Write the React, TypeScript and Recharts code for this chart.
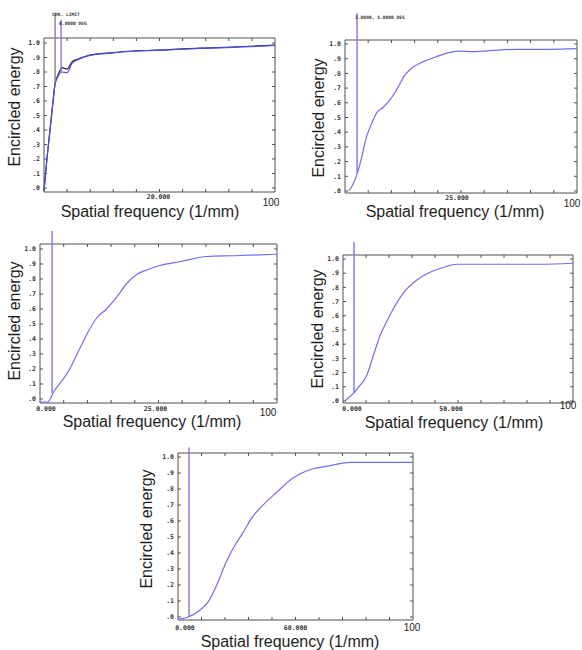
import React from "react";
import {
  LineChart,
  Line,
  XAxis,
  YAxis,
  ReferenceArea,
  ReferenceLine,
} from "recharts";

// shared axis ticks
const freqTicks = [0, 10, 20, 30, 40, 50, 60, 70, 80, 90, 100];
const eeTicks = [0, 0.1, 0.2, 0.3, 0.4, 0.5, 0.6, 0.7, 0.8, 0.9, 1.0];
const eeTickText = [".0", ".1", ".2", ".3", ".4", ".5", ".6", ".7", ".8", ".9", "1.0"];

// panel 1 (two field curves)
const p1Freq = [0, 1.2, 2.6, 4.0, 4.8, 6.1, 7.8, 10.0, 12.1, 14.7, 19.9, 28.6, 38.5, 53.0, 67.5, 81.8, 100];
const p1Black = [-0.02, 0.19, 0.4, 0.61, 0.72, 0.78, 0.83, 0.82, 0.87, 0.89, 0.917, 0.932, 0.945, 0.953, 0.965, 0.972, 0.986];
const p1Blue = [-0.02, 0.19, 0.4, 0.61, 0.72, 0.77, 0.8, 0.795, 0.86, 0.885, 0.915, 0.93, 0.943, 0.952, 0.963, 0.97, 0.984];

// panel 2
const p2Freq = [1.7, 4.3, 5.7, 7.2, 9.3, 11.5, 13.6, 16.5, 19.4, 22.3, 25.9, 28.7, 33.8, 39.5, 45.3, 49.6, 54.6, 62.5, 74, 88.4, 100];
const p2Ee = [0, 0.075, 0.14, 0.23, 0.37, 0.46, 0.53, 0.57, 0.62, 0.69, 0.79, 0.835, 0.88, 0.915, 0.943, 0.952, 0.948, 0.955, 0.964, 0.964, 0.968];

// panel 3
const p3Freq = [0, 3.4, 5.5, 11.8, 16.9, 20.4, 23.9, 28.1, 32.4, 36.6, 40.8, 45, 50.6, 59, 70.3, 81.6, 100];
const p3Ee = [-0.02, -0.02, 0.04, 0.18, 0.34, 0.45, 0.54, 0.6, 0.68, 0.77, 0.83, 0.86, 0.89, 0.915, 0.95, 0.955, 0.965];

// panel 4
const p4Freq = [0.8, 4.5, 7.4, 10.3, 13.2, 16.1, 19, 21.9, 26.2, 32, 37.8, 43.6, 49.4, 63.9, 85.7, 100];
const p4Ee = [0, 0.054, 0.11, 0.18, 0.32, 0.46, 0.56, 0.65, 0.76, 0.85, 0.906, 0.94, 0.963, 0.963, 0.963, 0.97];

// panel 5
const p5Freq = [0, 4.4, 9.4, 12.9, 16.5, 20.7, 24.3, 27.8, 31.4, 34.9, 42, 49.1, 56.2, 64.7, 73.2, 100];
const p5Ee = [-0.015, 0, 0.044, 0.096, 0.2, 0.35, 0.45, 0.53, 0.62, 0.68, 0.78, 0.87, 0.92, 0.946, 0.967, 0.967];

const FONT = '"Liberation Sans", Arial, sans-serif';
const MONO = '"DejaVu Sans Mono", monospace';
const FRAME = "#505050";
const BLUE = "#6e6ef0";

const toRows = (freq: number[], ee: number[]) =>
  freq.map((f, i) => ({ f, ee: ee[i] }));

type Series = { freq: number[]; ee: number[]; color: string };
type Marker = {
  at: number;
  from: number;
  to: number;
  color: string;
  text?: string;
  tdx?: number;
  tdy?: number;
};
type XLabel = { at: number; text: string; dx: number };

type PanelProps = {
  box: [number, number, number, number];
  yDomain: [number, number];
  series: Series[];
  markers: Marker[];
  xLabels: XLabel[];
  xLabelDy: number;
  endLabel: { dx: number; dy: number };
  titleAt: [number, number];
  yTitleAt: [number, number];
};

function Panel({
  box,
  yDomain,
  series,
  markers,
  xLabels,
  xLabelDy,
  endLabel,
  titleAt,
  yTitleAt,
}: PanelProps) {
  const [L, T, R, B] = box;
  const plotW = R - L;
  const plotH = B - T;
  const padL = 30,
    padT = 32,
    padR = 14,
    padB = 18;

  const XTick = (props: any) => {
    const { x, y, payload } = props;
    const v = payload.value;
    const lab = xLabels.find((l) => l.at === v);
    const inner = v !== 0 && v !== 100;
    return (
      <g>
        {inner && <line x1={x} y1={y} x2={x} y2={y - 3} stroke={FRAME} />}
        {inner && (
          <line x1={x} y1={y - plotH} x2={x} y2={y - plotH + 3} stroke={FRAME} />
        )}
        {lab && (
          <text
            x={x + lab.dx}
            y={y + xLabelDy}
            textAnchor="middle"
            fontSize={6.5}
            fontWeight="bold"
            fontFamily={MONO}
            fill="#333"
          >
            {lab.text}
          </text>
        )}
        {v === 100 && (
          <text
            x={x + endLabel.dx}
            y={y + endLabel.dy}
            textAnchor="middle"
            fontSize={10}
            fontFamily={FONT}
            fill="#222"
          >
            100
          </text>
        )}
      </g>
    );
  };

  const YTick = (props: any) => {
    const { x, y, index } = props;
    return (
      <g>
        <line x1={x} y1={y} x2={x + 3} y2={y} stroke={FRAME} />
        <line x1={x + plotW} y1={y} x2={x + plotW - 3} y2={y} stroke={FRAME} />
        <text
          x={x - 4}
          y={y + 2.3}
          textAnchor="end"
          fontSize={6.5}
          fontWeight="bold"
          fontFamily={MONO}
          fill="#333"
        >
          {eeTickText[index]}
        </text>
      </g>
    );
  };

  return (
    <>
      <div style={{ position: "absolute", left: L - padL, top: T - padT }}>
        <LineChart
          width={plotW + padL + padR}
          height={plotH + padT + padB}
          margin={{ top: padT, right: padR, bottom: 0, left: 0 }}
        >
          <XAxis
            type="number"
            dataKey="f"
            domain={[0, 100]}
            ticks={freqTicks}
            interval={0}
            height={padB}
            tickSize={0}
            tickMargin={0}
            tick={XTick}
            axisLine={false}
          />
          <YAxis
            type="number"
            domain={yDomain}
            ticks={eeTicks}
            interval={0}
            width={padL}
            tickSize={0}
            tickMargin={0}
            tick={YTick}
            axisLine={false}
          />
          <ReferenceArea
            x1={0}
            x2={100}
            y1={yDomain[0]}
            y2={yDomain[1]}
            fill="#fff"
            fillOpacity={0}
            stroke={FRAME}
            strokeWidth={1}
            ifOverflow="visible"
          />
          {series.map((s, i) => (
            <Line
              key={i}
              data={toRows(s.freq, s.ee)}
              dataKey="ee"
              type="monotone"
              stroke={s.color}
              strokeWidth={1.2}
              dot={false}
              isAnimationActive={false}
            />
          ))}
          {markers.map((m, i) => (
            <ReferenceLine
              key={"m" + i}
              segment={[
                { x: m.at, y: m.from },
                { x: m.at, y: m.to },
              ]}
              stroke={m.color}
              strokeWidth={1.3}
              ifOverflow="visible"
              label={
                m.text
                  ? (p: any) => (
                      <text
                        x={p.viewBox.x + (m.tdx || 0)}
                        y={p.viewBox.y + (m.tdy || 0)}
                        fontSize={4.6}
                        fontWeight="bold"
                        fontFamily={MONO}
                        fill="#333"
                      >
                        {m.text}
                      </text>
                    )
                  : undefined
              }
            />
          ))}
        </LineChart>
      </div>
      <div
        style={{
          position: "absolute",
          left: titleAt[0],
          top: titleAt[1],
          transform: "translate(-50%, -50%)",
          fontFamily: FONT,
          fontSize: 16,
          lineHeight: 1,
          whiteSpace: "nowrap",
          color: "#1e1e1e",
        }}
      >
        Spatial frequency (1/mm)
      </div>
      <div
        style={{
          position: "absolute",
          left: yTitleAt[0],
          top: yTitleAt[1],
          transform: "translate(-50%, -50%) rotate(-90deg)",
          fontFamily: FONT,
          fontSize: 16,
          lineHeight: 1,
          whiteSpace: "nowrap",
          color: "#1e1e1e",
        }}
      >
        Encircled energy
      </div>
    </>
  );
}

export default function App() {
  return (
    <div
      style={{
        position: "absolute",
        left: 0,
        top: 0,
        width: 582,
        height: 650,
        background: "#fff",
        overflow: "hidden",
      }}
    >
      <Panel
        box={[44, 38, 275, 192]}
        yDomain={[-0.0276, 1.0345]}
        series={[
          { freq: p1Freq, ee: p1Black, color: "#2a2a2a" },
          { freq: p1Freq, ee: p1Blue, color: "#4a4ae6" },
        ]}
        markers={[
          { at: 4.8, from: 0.72, to: 1.207, color: "#7a7a7a", text: "CDR. LIMIT", tdx: -3, tdy: 3 },
          { at: 7.4, from: 0.8, to: 1.16, color: BLUE, text: "0.0000 DEG", tdx: -2, tdy: 5 },
        ]}
        xLabels={[{ at: 50, text: "20.000", dx: -1 }]}
        xLabelDy={6.5}
        endLabel={{ dx: -4, dy: 13.6 }}
        titleAt={[150, 212]}
        yTitleAt={[15, 107]}
      />
      <Panel
        box={[345, 40, 577, 193]}
        yDomain={[-0.0136, 1.0272]}
        series={[{ freq: p2Freq, ee: p2Ee, color: BLUE }]}
        markers={[
          { at: 5.2, from: 0.12, to: 1.21, color: BLUE, text: "3.0000, 5.0000 DEG", tdx: -2, tdy: 6 },
        ]}
        xLabels={[{ at: 50, text: "25.000", dx: -4 }]}
        xLabelDy={6.5}
        endLabel={{ dx: -5, dy: 13.6 }}
        titleAt={[455, 212]}
        yTitleAt={[319, 118]}
      />
      <Panel
        box={[40, 244, 277, 403]}
        yDomain={[-0.0267, 1.0333]}
        series={[{ freq: p3Freq, ee: p3Ee, color: BLUE }]}
        markers={[{ at: 5.1, from: 0.04, to: 1.12, color: BLUE }]}
        xLabels={[
          { at: 0, text: "0.000", dx: 6 },
          { at: 50, text: "25.000", dx: -3 },
        ]}
        xLabelDy={7.5}
        endLabel={{ dx: -9, dy: 12.6 }}
        titleAt={[152, 422]}
        yTitleAt={[15, 321]}
      />
      <Panel
        box={[343, 255, 573, 403]}
        yDomain={[-0.014, 1.028]}
        series={[{ freq: p4Freq, ee: p4Ee, color: BLUE }]}
        markers={[{ at: 4.8, from: 0.054, to: 1.12, color: BLUE }]}
        xLabels={[
          { at: 0, text: "0.000", dx: 9 },
          { at: 50, text: "50.000", dx: -7 },
        ]}
        xLabelDy={7.5}
        endLabel={{ dx: -5, dy: 5.6 }}
        titleAt={[454, 423]}
        yTitleAt={[318, 329]}
      />
      <Panel
        box={[178, 453, 413, 620]}
        yDomain={[-0.019, 1.025]}
        series={[{ freq: p5Freq, ee: p5Ee, color: BLUE }]}
        markers={[{ at: 4.7, from: 0, to: 1.06, color: BLUE }]}
        xLabels={[
          { at: 0, text: "0.000", dx: 7 },
          { at: 50, text: "60.000", dx: 0 },
        ]}
        xLabelDy={9.5}
        endLabel={{ dx: -1, dy: 10.6 }}
        titleAt={[290, 642]}
        yTitleAt={[147, 529]}
      />
    </div>
  );
}
